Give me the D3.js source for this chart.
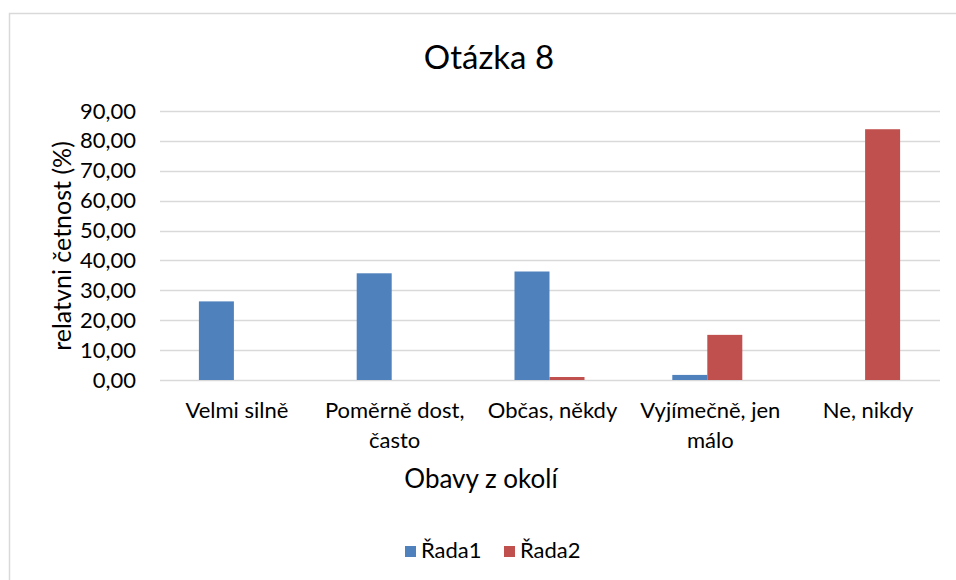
<!DOCTYPE html>
<html>
<head>
<meta charset="utf-8">
<script src="https://cdn.jsdelivr.net/npm/d3@7"></script>
<style>
  body { margin: 0; background: #fff; }
  text { font-family: Lato, "Open Sans", sans-serif; fill: #000; }
</style>
</head>
<body>
<div id="chart"></div>
<script>
// data
let categories = [["Velmi silně"], ["Poměrně dost,", "často"], ["Občas, někdy"], ["Vyjímečně, jen", "málo"], ["Ne, nikdy"]]
let seriesNames = ["Řada1", "Řada2"]
let rada1 = [26.3, 35.7, 36.3, 1.7, 0]
let rada2 = [0, 0, 1.0, 15.1, 83.9]
let yTicks = [0, 10, 20, 30, 40, 50, 60, 70, 80, 90]
let colors = ["#4F81BD", "#C0504D"]

let width = 956, height = 580;

let svg = d3.select("#chart")
    .append("svg")
    .attr("width", width)
    .attr("height", height);

// chart frame (runs off the right and bottom like the original)
svg.append("rect")
    .attr("x", 9.5)
    .attr("y", 13.5)
    .attr("width", 1000)
    .attr("height", 700)
    .style("fill", "none")
    .style("stroke", "#D9D9D9")
    .style("stroke-width", 1.5);

let xScale = d3.scaleBand()
    .domain(d3.range(categories.length))
    .range([155, 944])
    .paddingInner(0)
    .paddingOuter(0);

let inner = d3.scaleBand()
    .domain(seriesNames)
    .range([0, xScale.bandwidth()])
    .paddingInner(0)
    .paddingOuter(1.254);

let yScale = d3.scaleLinear()
    .domain([0, 90])
    .range([380, 111]);

// gridlines
svg.append("g")
    .selectAll("line")
    .data(yTicks)
    .enter()
    .append("line")
    .attr("x1", 160)
    .attr("x2", 940)
    .attr("y1", d => Math.round(yScale(d)) + 0.5)
    .attr("y2", d => Math.round(yScale(d)) + 0.5)
    .style("stroke", "#D9D9D9")
    .style("stroke-width", 1.5);

// y axis tick labels
let yAxis = svg.append("g")
    .attr("transform", "translate(150,0)")
    .call(d3.axisLeft(yScale).tickValues(yTicks).tickSize(0).tickPadding(0)
        .tickFormat(d => d3.format(".2f")(d).replace(".", ",")));
yAxis.select(".domain").remove();
yAxis.selectAll("text")
    .style("font-size", "22px")
    .style("font-family", "Lato, sans-serif")
    .attr("fill", "#000")
    .attr("x", -14);

// bars
let values = [rada1, rada2];
values.forEach((vals, s) => {
    svg.append("g")
        .selectAll("rect")
        .data(vals)
        .enter()
        .append("rect")
        .attr("x", (d, i) => xScale(i) + inner(seriesNames[s]))
        .attr("width", inner.bandwidth())
        .attr("y", d => yScale(d))
        .attr("height", d => yScale(0) - yScale(d))
        .style("fill", colors[s]);
});

// category labels
let catLabels = svg.append("g")
    .selectAll("text")
    .data(categories)
    .enter()
    .append("text")
    .attr("text-anchor", "middle")
    .attr("x", (d, i) => xScale(i) + xScale.bandwidth() / 2 + 3)
    .attr("y", 418)
    .style("font-size", "22px");
catLabels.selectAll("tspan")
    .data(d => d)
    .enter()
    .append("tspan")
    .attr("x", function () { return d3.select(this.parentNode).attr("x") })
    .attr("dy", (d, i) => i == 0 ? 0 : 30)
    .text(d => d);

// axis titles
svg.append("text")
    .attr("text-anchor", "middle")
    .attr("x", 481)
    .attr("y", 488)
    .style("font-size", "26px")
    .text("Obavy z okolí");

svg.append("text")
    .attr("text-anchor", "middle")
    .attr("transform", "translate(71,246) rotate(-90)")
    .style("font-size", "25px")
    .text("relatvni četnost (%)");

// title
svg.append("text")
    .attr("text-anchor", "middle")
    .attr("x", 489)
    .attr("y", 69)
    .style("font-size", "33px")
    .text("Otázka 8");

// legend
let legend = svg.append("g")
    .selectAll("g")
    .data(seriesNames)
    .enter()
    .append("g")
    .attr("transform", (d, i) => "translate(" + (405 + i * 99) + ",546)");
legend.append("rect")
    .attr("width", 11)
    .attr("height", 11)
    .style("fill", (d, i) => colors[i]);
legend.append("text")
    .attr("x", 16)
    .attr("y", 12)
    .style("font-size", "22px")
    .text(d => d);
</script>
</body>
</html>
